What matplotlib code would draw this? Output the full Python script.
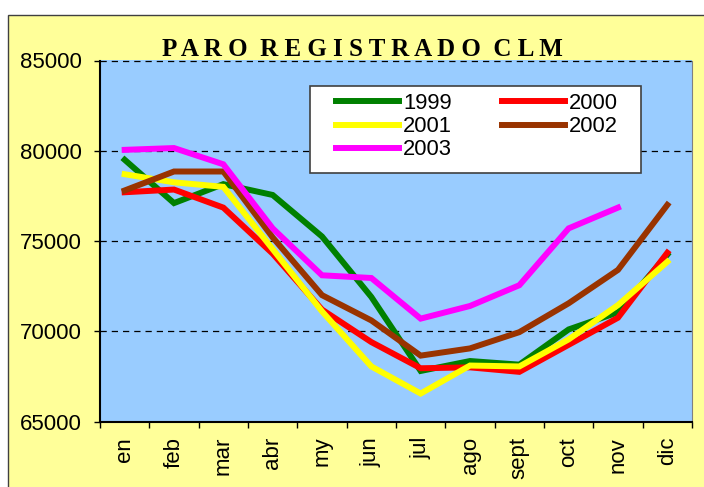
import numpy as np
import matplotlib.pyplot as plt
from matplotlib.patches import Rectangle
from matplotlib.lines import Line2D

months = ["en", "feb", "mar", "abr", "my", "jun", "jul", "ago", "sept", "oct", "nov", "dic"]

paro_1999 = [79500, 77100, 78150, 77550, 75250, 71900, 67800, 68350, 68150, 70100, 71050, 74250]
paro_2000 = [77700, 77850, 76850, 74300, 71200, 69400, 67950, 68000, 67750, 69250, 70750, 74350]
paro_2001 = [78700, 78250, 78000, 74550, 71100, 68050, 66550, 68100, 68050, 69550, 71450, 73850]
paro_2002 = [77800, 78850, 78850, 75200, 72000, 70600, 68650, 69050, 69950, 71550, 73400, 77000]
paro_2003 = [80050, 80150, 79250, 75700, 73100, 72950, 70700, 71400, 72550, 75700, 76850]

series = [
    ("1999", paro_1999, "#008000"),
    ("2000", paro_2000, "#FF0000"),
    ("2001", paro_2001, "#FFFF00"),
    ("2002", paro_2002, "#993300"),
    ("2003", paro_2003, "#FF00FF"),
]

plt.rcParams["font.family"] = "Liberation Sans"

fig = plt.figure(figsize=(7.04, 4.87), dpi=100)
fig.patch.set_facecolor("white")

# yellow chart area with thin frame (cut off at right/bottom like the original)
fig.patches.append(Rectangle((8 / 704, -0.05), 1.2, 1 - 14.7 / 487 + 0.05,
                             transform=fig.transFigure, facecolor="#FFFF99",
                             edgecolor="#404040", lw=1.0, zorder=-10))

ax = fig.add_axes([100 / 704, 1 - 421.5 / 487, 592 / 704, 361 / 487])
ax.set_facecolor("#99CCFF")

for name, values, color in series:
    ax.plot(np.arange(len(values)), values, color=color, lw=4.3, label=name,
            solid_joinstyle="miter")

ax.set_xlim(-0.5, 11.5)
ax.set_ylim(65000, 85000)
ax.set_yticks(np.arange(65000, 85001, 5000))
ax.yaxis.grid(True, linestyle=(0, (5, 4)), color="black", lw=0.9)
ax.set_axisbelow(True)

ax.set_xticks(np.arange(12))
ax.set_xticklabels(months, rotation=90)
ax.set_xticks(np.arange(-0.5, 12, 1), minor=True)
ax.tick_params(axis="x", which="major", length=0, pad=11, labelsize=16)
ax.tick_params(axis="x", which="minor", length=4.3, width=1.0, direction="out")
ax.tick_params(axis="y", length=4.3, width=1.0, direction="out", pad=8.6, labelsize=16)

ax.spines["top"].set_visible(False)
ax.spines["right"].set_color("#808080")
ax.spines["left"].set_linewidth(1.5)
ax.spines["bottom"].set_linewidth(1.5)

# legend frame drawn separately to match the spacing of the original box
ax.add_patch(Rectangle(((310 - 100) / 592, (421.5 - 173) / 361), 331 / 592, 87 / 361,
                       transform=ax.transAxes, facecolor="white", edgecolor="#404040",
                       lw=1.2, zorder=4))
handles = [Line2D([], [], color=c, lw=4.3) for _, _, c in series]
labels = [n for n, _, _ in series]
order = [0, 2, 4, 1, 3]
ax.legend([handles[i] for i in order], [labels[i] for i in order], ncol=2,
          loc="upper left", bbox_to_anchor=((336 - 100) / 592, (421.5 - 93) / 361),
          frameon=False, borderpad=0, borderaxespad=0, fontsize=15.8,
          handlelength=2.85, handletextpad=0.2, columnspacing=2.3, labelspacing=0.1)

fig.text(0.515, 1 - 50 / 487, "P A R O  R E G I S T R A D O  C L M",
         family="Liberation Serif", weight="bold", fontsize=18,
         ha="center", va="center")

fig.savefig("out.png", dpi=100)
